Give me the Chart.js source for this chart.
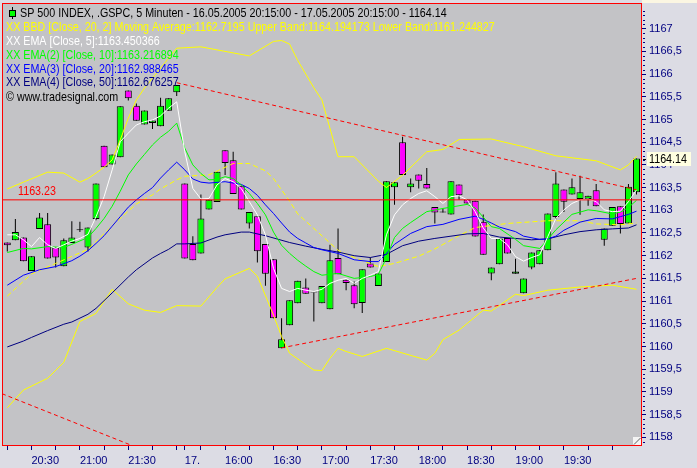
<!DOCTYPE html>
<html>
<head>
<meta charset="utf-8">
<title>SP 500 INDEX, 5 Minuten</title>
<script src="https://cdn.jsdelivr.net/npm/chart.js@4.4.1/dist/chart.umd.min.js"></script>
<style>
    html, body { margin: 0; padding: 0; background: #dcdce4; }
    canvas { display: block; }
</style>
</head>
<body>
<canvas id="price-chart" width="697" height="468"></canvas>
<script>
// 5 minute bars, 16.05.2005 20:15 - 17.05.2005 20:15 (bar index 0..78)
const opens = [
    1162.29, 1162.34, 1162.40, 1161.66, 1162.59, 1162.69, 1162.18, 1161.77, 1162.28, 1162.56,
    1162.18, 1162.81, 1164.42, 1164.01, 1164.17, 1165.64, 1165.30, 1164.89, 1164.92, 1164.85,
    1165.19, 1165.60, 1163.59, 1162.26, 1162.05, 1163.02, 1163.18, 1164.32, 1164.10, 1163.54,
    1162.71, 1162.87, 1162.26, 1161.92, 1159.96, 1160.47, 1160.95, 1161.30, 1161.19, 1160.95,
    1160.82, 1161.95, 1161.47, 1161.35, 1160.96, 1161.83, 1161.33, 1161.86, 1163.51, 1164.50,
    1163.51, 1163.79, 1163.58, 1163.07, 1162.95, 1162.91, 1163.57, 1163.24, 1163.21, 1162.75,
    1161.61, 1161.81, 1162.39, 1161.60, 1161.17, 1161.74, 1161.81, 1162.12, 1162.85, 1163.46,
    1163.35, 1163.25, 1163.25, 1163.44, 1162.35, 1162.66, 1163.09, 1162.71, 1163.40
];
const highs = [
    1162.29, 1162.81, 1162.40, 1161.99, 1162.94, 1162.94, 1162.18, 1162.38, 1162.76, 1162.75,
    1162.62, 1163.59, 1164.42, 1164.23, 1165.29, 1165.64, 1165.35, 1165.20, 1164.98, 1165.48,
    1165.47, 1165.76, 1163.59, 1162.43, 1163.35, 1163.23, 1163.85, 1164.32, 1164.29, 1163.54,
    1162.96, 1162.87, 1162.26, 1161.92, 1160.62, 1161.02, 1161.45, 1161.50, 1161.19, 1161.33,
    1162.24, 1162.60, 1161.47, 1161.43, 1161.70, 1161.96, 1161.61, 1163.64, 1163.62, 1164.62,
    1163.70, 1163.79, 1163.93, 1163.07, 1163.04, 1163.64, 1163.57, 1163.24, 1163.21, 1162.91,
    1161.74, 1162.38, 1162.39, 1161.93, 1161.50, 1162.07, 1162.12, 1162.93, 1163.84, 1163.46,
    1163.70, 1163.76, 1163.32, 1163.58, 1162.60, 1163.07, 1163.09, 1163.58, 1164.14
];
const lows = [
    1162.09, 1162.34, 1161.88, 1161.66, 1162.59, 1161.94, 1161.74, 1161.77, 1162.28, 1162.52,
    1162.09, 1162.78, 1163.95, 1164.01, 1164.17, 1165.42, 1164.97, 1164.89, 1164.79, 1164.85,
    1165.19, 1165.52, 1161.94, 1161.90, 1162.05, 1163.02, 1163.18, 1163.78, 1163.36, 1163.02,
    1162.60, 1161.85, 1161.34, 1160.62, 1159.96, 1160.47, 1160.95, 1161.16, 1160.55, 1160.95,
    1160.82, 1161.59, 1161.24, 1160.84, 1160.74, 1161.74, 1161.33, 1161.86, 1163.12, 1163.78,
    1163.40, 1163.48, 1163.48, 1162.71, 1162.95, 1162.91, 1163.23, 1163.15, 1162.42, 1162.02,
    1161.46, 1161.81, 1162.05, 1161.60, 1161.17, 1161.70, 1161.81, 1162.12, 1162.80, 1162.96,
    1163.35, 1162.90, 1163.10, 1163.09, 1162.22, 1162.66, 1162.49, 1162.71, 1163.35
];
const closes = [
    1162.23, 1162.52, 1161.88, 1161.99, 1162.84, 1161.94, 1161.96, 1162.34, 1162.40, 1162.56,
    1162.62, 1163.59, 1163.95, 1164.23, 1165.29, 1165.47, 1164.97, 1165.20, 1164.98, 1165.30,
    1165.47, 1165.76, 1161.94, 1161.90, 1162.82, 1163.23, 1163.85, 1164.04, 1163.36, 1163.02,
    1162.96, 1162.10, 1161.60, 1160.62, 1160.16, 1161.02, 1161.45, 1161.16, 1161.19, 1161.33,
    1161.90, 1161.59, 1161.40, 1160.93, 1161.70, 1161.74, 1161.61, 1163.64, 1163.62, 1163.78,
    1163.59, 1163.65, 1163.48, 1162.95, 1162.95, 1163.64, 1163.33, 1163.15, 1162.42, 1162.02,
    1161.74, 1162.38, 1162.05, 1161.65, 1161.50, 1162.07, 1162.12, 1162.93, 1163.59, 1163.19,
    1163.51, 1163.40, 1163.32, 1163.09, 1162.60, 1163.07, 1162.70, 1163.52, 1164.14
];

// EMA 5 read at every bar
const ema5 = [
    1162.46, 1162.46, 1162.35, 1162.20, 1162.40, 1162.24, 1162.16, 1162.24, 1162.32, 1162.38,
    1162.47, 1162.86, 1163.30, 1163.89, 1164.51, 1164.70, 1164.88, 1164.95, 1164.99, 1165.08,
    1165.25, 1165.39, 1164.29, 1163.48, 1163.25, 1163.26, 1163.56, 1163.70, 1163.63, 1163.48,
    1163.19, 1162.90, 1162.46, 1161.72, 1161.28, 1161.21, 1161.28, 1161.24, 1161.21, 1161.26,
    1161.39, 1161.46, 1161.50, 1161.39, 1161.50, 1161.57, 1161.65, 1162.46, 1162.90, 1163.12,
    1163.26, 1163.37, 1163.43, 1163.30, 1163.15, 1163.30, 1163.32, 1163.23, 1162.97, 1162.61,
    1162.38, 1162.38, 1162.24, 1161.98, 1161.88, 1161.96, 1162.02, 1162.42, 1162.82, 1163.01,
    1163.15, 1163.23, 1163.25, 1163.19, 1163.01, 1162.97, 1162.98, 1163.19, 1163.45
];

// Other indicator lines, [bar index, value] read at the turning points
const ema10 = [
    [0, 1162.07], [2, 1162.16], [3, 1162.15], [5, 1162.20], [7, 1162.18], [8, 1162.25], [10, 1162.40],
    [11, 1162.60], [12, 1162.82], [13, 1163.09], [14, 1163.42], [15, 1163.78], [16, 1164.02], [17, 1164.23],
    [18, 1164.44], [19, 1164.61], [20, 1164.74], [21, 1164.92], [22, 1164.37], [23, 1164.00], [24, 1163.81],
    [25, 1163.67], [26, 1163.68], [27, 1163.74], [28, 1163.70], [29, 1163.56], [30, 1163.37], [31, 1163.15],
    [32, 1162.90], [33, 1162.52], [34, 1162.23], [35, 1162.05], [36, 1161.90], [37, 1161.77], [38, 1161.65],
    [39, 1161.57], [41, 1161.61], [43, 1161.50], [45, 1161.54], [46, 1161.59], [47, 1161.95], [48, 1162.40],
    [49, 1162.60], [50, 1162.73], [52, 1162.97], [54, 1163.04], [55, 1163.07], [57, 1163.13], [58, 1163.05],
    [59, 1162.85], [60, 1162.64], [61, 1162.60], [63, 1162.36], [64, 1162.22], [66, 1162.16], [67, 1162.36],
    [68, 1162.57], [70, 1162.91], [72, 1163.01], [73, 1162.99], [75, 1162.92], [76, 1162.96], [77, 1163.06],
    [78, 1163.22]
];
const ema20 = [
    [0, 1161.35], [2, 1161.57], [4, 1161.69], [6, 1161.76], [8, 1161.89], [9, 1161.99], [10, 1162.11],
    [11, 1162.27], [12, 1162.44], [13, 1162.65], [14, 1162.86], [15, 1163.07], [16, 1163.23], [17, 1163.37],
    [18, 1163.50], [19, 1163.71], [20, 1163.89], [21, 1164.06], [22, 1163.89], [23, 1163.69], [24, 1163.62],
    [25, 1163.60], [27, 1163.63], [29, 1163.57], [30, 1163.48], [31, 1163.33], [32, 1163.12], [33, 1162.93],
    [34, 1162.72], [35, 1162.52], [36, 1162.38], [37, 1162.28], [38, 1162.18], [39, 1162.13], [41, 1162.05],
    [43, 1161.91], [45, 1161.87], [46, 1161.87], [47, 1162.05], [48, 1162.25], [50, 1162.49], [52, 1162.64],
    [54, 1162.69], [56, 1162.80], [58, 1162.87], [59, 1162.80], [60, 1162.72], [61, 1162.63], [63, 1162.53],
    [64, 1162.43], [66, 1162.36], [67, 1162.37], [68, 1162.43], [69, 1162.56], [71, 1162.74], [73, 1162.82],
    [75, 1162.81], [76, 1162.86], [77, 1162.91], [78, 1162.98]
];
const ema50 = [
    [0, 1159.99], [2, 1160.12], [3, 1160.20], [5, 1160.35], [7, 1160.49], [8, 1160.54], [10, 1160.71],
    [11, 1160.84], [13, 1161.18], [15, 1161.53], [16, 1161.69], [18, 1161.95], [19, 1162.05], [20, 1162.14],
    [21, 1162.26], [22, 1162.26], [24, 1162.28], [26, 1162.41], [27, 1162.46], [29, 1162.52], [30, 1162.52],
    [32, 1162.44], [35, 1162.29], [37, 1162.21], [39, 1162.14], [41, 1162.08], [43, 1162.00], [45, 1161.96],
    [47, 1162.03], [49, 1162.22], [51, 1162.32], [53, 1162.38], [55, 1162.43], [57, 1162.48], [59, 1162.49],
    [61, 1162.41], [63, 1162.38], [65, 1162.35], [67, 1162.37], [69, 1162.46], [71, 1162.53], [73, 1162.57],
    [75, 1162.59], [77, 1162.61], [78, 1162.68]
];
const upperBand = [
    [0, 1163.47], [2, 1163.62], [5, 1163.84], [7, 1163.82], [9, 1163.62], [10, 1163.70], [11, 1163.82],
    [12, 1163.95], [13, 1164.11], [14, 1164.55], [15, 1165.03], [16, 1165.43], [17, 1165.69], [18, 1165.91],
    [19, 1166.13], [20, 1166.35], [21, 1166.57], [24, 1166.60], [30, 1166.40], [33, 1166.72], [34, 1166.74],
    [35, 1166.66], [36, 1166.30], [38, 1165.70], [39, 1165.43], [41, 1164.18], [43, 1164.18], [46, 1163.64],
    [47, 1163.50], [49, 1163.77], [52, 1164.29], [54, 1164.34], [56, 1164.56], [60, 1164.57], [64, 1164.40],
    [68, 1164.20], [73, 1164.09], [76, 1163.89], [77, 1164.00], [78, 1164.19]
];
const middleBand = [
    [0, 1161.11], [3, 1161.60], [6, 1161.83], [10, 1162.14], [13, 1162.66], [16, 1163.14], [18, 1163.34],
    [19, 1163.47], [21, 1163.67], [22, 1163.75], [25, 1163.78], [28, 1164.03], [30, 1164.03], [32, 1163.87],
    [33, 1163.70], [35, 1163.20], [36, 1162.92], [38, 1162.60], [41, 1162.12], [43, 1161.96], [46, 1161.76],
    [48, 1161.83], [51, 1161.99], [53, 1162.15], [56, 1162.44], [58, 1162.62], [62, 1162.71], [67, 1162.77],
    [71, 1162.77], [73, 1162.70], [76, 1162.68], [78, 1162.72]
];
const lowerBand = [
    [0, 1158.65], [2, 1159.04], [5, 1159.30], [7, 1159.65], [9, 1160.55], [11, 1160.73], [13, 1161.26],
    [15, 1160.94], [17, 1160.80], [19, 1160.75], [21, 1160.90], [24, 1160.89], [26, 1161.30], [27, 1161.49],
    [30, 1161.72], [31, 1161.55], [33, 1160.69], [34, 1160.22], [35, 1159.85], [38, 1159.48], [39, 1159.47],
    [40, 1159.74], [41, 1159.96], [42, 1159.89], [44, 1159.78], [47, 1159.96], [52, 1159.70], [53, 1159.85],
    [54, 1160.15], [56, 1160.36], [59, 1160.80], [60, 1160.78], [63, 1161.15], [64, 1161.12], [67, 1161.24],
    [71, 1161.31], [75, 1161.35], [78, 1161.26]
];

// Drawn trend lines
const trendUpper = [[21, 1165.81], [78, 1163.45]];
const trendLower = [[34, 1159.97], [78, 1161.50]];
const trendLeft = [[-0.66, 1158.96], [16, 1157.78]];

// Horizontal marker and last price
const markerLevel = 1163.23;
const lastPrice = 1164.14;

// Axis ticks
const yTickValues = [
    1158, 1158.5, 1159, 1159.5, 1160, 1160.5, 1161, 1161.5, 1162,
    1162.5, 1163, 1163.5, 1164, 1164.5, 1165, 1165.5, 1166, 1166.5, 1167
];
const xTickIndex = [0, 3, 6, 9, 12, 15, 18, 21, 22, 24, 27, 30, 33, 36, 39, 42, 45, 48, 51, 54, 57, 60, 63, 66, 69, 72, 75];
const xTickLabels = ['', '20:30', '', '21:00', '', '21:30', '', '', '17.', '', '16:00', '', '16:30', '',
    '17:00', '', '17:30', '', '18:00', '', '18:30', '', '19:00', '', '19:30', '', ''];

// Header text
const titleText = 'SP 500 INDEX, .GSPC, 5 Minuten - 16.05.2005 20:15:00 - 17.05.2005 20:15:00 - 1164.14';
const legendLines = [
    { text: 'XX BBD [Close, 20, 2] Moving Average:1162.7195 Upper Band:1164.194173 Lower Band:1161.244827', color: '#ffff00' },
    { text: 'XX EMA [Close, 5]:1163.450366', color: '#ffffff' },
    { text: 'XX EMA(2) [Close, 10]:1163.216894', color: '#00ff00' },
    { text: 'XX EMA(3) [Close, 20]:1162.988465', color: '#0000ff' },
    { text: 'XX EMA(4) [Close, 50]:1162.676257', color: '#000080' },
    { text: '\u00a9 www.tradesignal.com', color: '#000000' }
];

// Colors and fonts
const NAVY = '#000080';
const PLOT_BG = '#c3c3c6';
const PANEL_BG = '#dcdce4';
const FONT_FAMILY = "'Liberation Sans', Arial, sans-serif";
const FONT = '13px ' + FONT_FAMILY;
const NARROW = 0.825; // horizontal squeeze for the header text

// Turn [index, value] pairs into chart points
function toPoints(pairs) {
    return pairs.map(([x, y]) => ({ x: x, y: y }));
}

// Build a thin indicator line dataset
function lineSet(label, pairs, color, order, dash) {
    return {
        type: 'line',
        label: label,
        data: toPoints(pairs),
        borderColor: color,
        borderWidth: 1,
        borderDash: dash || [],
        pointRadius: 0,
        tension: 0,
        fill: false,
        order: order
    };
}

// Draw narrow text by squeezing the canvas horizontally
function narrowText(ctx, text, x, y) {
    ctx.save();
    ctx.translate(x, y);
    ctx.scale(NARROW, 1);
    ctx.fillText(text, 0, 0);
    ctx.restore();
}

// Background, frame, header, marker label and price box
const chartDecor = {
    id: 'chartDecor',
    beforeDraw(chart) {
        const { ctx, chartArea: a } = chart;
        ctx.save();
        ctx.fillStyle = PANEL_BG;
        ctx.fillRect(0, 0, chart.width, chart.height);
        ctx.fillStyle = '#fbf6e2';
        ctx.fillRect(a.right, 0, chart.width - a.right, a.top);
        ctx.fillStyle = PLOT_BG;
        ctx.fillRect(a.left, a.top, a.right - a.left, a.bottom - a.top);
        ctx.restore();
    },
    afterDraw(chart) {
        const { ctx, chartArea: a } = chart;
        const yScale = chart.scales.y;
        ctx.save();

        // minor ticks on the price axis
        ctx.fillStyle = NAVY;
        for (let k = 11579; k <= 11675; k++) {
            if (k % 5 === 0) continue;
            const y = Math.round(yScale.getPixelForValue(k / 10));
            ctx.fillRect(a.right + 1, y, 2, 1);
        }

        // red frame around the plot
        ctx.strokeStyle = '#ff0000';
        ctx.lineWidth = 1;
        ctx.strokeRect(a.left + 0.5, a.top + 0.5, a.right - a.left - 1, a.bottom - a.top - 1);

        // resize grip in the corner
        ctx.fillStyle = '#f4f4f4';
        ctx.fillRect(a.right - 9, a.bottom - 9, 8, 8);
        ctx.strokeStyle = '#606060';
        ctx.beginPath();
        ctx.moveTo(a.right - 8, a.bottom - 1.5);
        ctx.lineTo(a.right - 1.5, a.bottom - 8);
        ctx.stroke();

        // header: symbol icon and title
        ctx.strokeStyle = '#000000';
        ctx.beginPath();
        ctx.moveTo(12.5, 7);
        ctx.lineTo(12.5, 19);
        ctx.stroke();
        ctx.fillStyle = '#00ff00';
        ctx.fillRect(9.5, 10.5, 6, 6);
        ctx.strokeRect(9.5, 10.5, 6, 6);

        ctx.font = FONT;
        ctx.textBaseline = 'middle';
        ctx.textAlign = 'left';
        ctx.fillStyle = '#000000';
        narrowText(ctx, titleText, 20, 13.5);
        const lineY = [27, 41, 55, 69, 82.5, 97.5];
        legendLines.forEach((line, i) => {
            ctx.fillStyle = line.color;
            narrowText(ctx, line.text, 6, lineY[i]);
        });

        // marker level label
        const markerY = yScale.getPixelForValue(markerLevel);
        ctx.fillStyle = '#ff0000';
        narrowText(ctx, String(markerLevel), 18, markerY - 8);

        // last price box on the axis
        const priceY = Math.round(yScale.getPixelForValue(lastPrice));
        ctx.fillStyle = '#ffffe1';
        ctx.fillRect(a.right + 5, priceY - 7, 44, 14);
        ctx.fillStyle = '#000000';
        ctx.fillRect(a.right + 1, priceY, 3, 1);
        narrowText(ctx, lastPrice.toFixed(2), a.right + 7, priceY + 0.5);

        ctx.restore();
    }
};

// Build the chart
function initChart() {
    const canvas = document.getElementById('price-chart');

    const wickData = highs.map((h, i) => ({ x: i, y: [lows[i], h] }));
    const bodyData = opens.map((o, i) => ({ x: i, y: [o, closes[i]] }));

    new Chart(canvas, {
        type: 'bar',
        data: {
            datasets: [
                lineSet('Level', [[-1, markerLevel], [80, markerLevel]], '#ff0000', 0),
                lineSet('Trend upper', trendUpper, '#ff0000', 1, [4, 3]),
                lineSet('Trend lower', trendLower, '#ff0000', 1, [4, 3]),
                lineSet('Trend left', trendLeft, '#ff0000', 1, [4, 3]),
                lineSet('EMA 5', ema5.map((v, i) => [i, v]), '#ffffff', 2),
                lineSet('EMA 10', ema10, '#00ff00', 3),
                lineSet('EMA 20', ema20, '#0000ff', 4),
                lineSet('EMA 50', ema50, '#000080', 5),
                lineSet('Upper band', upperBand, '#ffff00', 6),
                lineSet('Lower band', lowerBand, '#ffff00', 6),
                lineSet('Moving average', middleBand, '#ffff00', 6, [5, 3]),
                {
                    type: 'bar',
                    label: 'Candles',
                    data: bodyData,
                    backgroundColor: ctx => closes[ctx.dataIndex] >= opens[ctx.dataIndex] ? '#00ff00' : '#ff00ff',
                    borderColor: '#000000',
                    borderWidth: 1,
                    borderSkipped: false,
                    barThickness: 7,
                    minBarLength: 1,
                    inflateAmount: 0,
                    grouped: false,
                    order: 10
                },
                {
                    type: 'bar',
                    label: 'Wicks',
                    data: wickData,
                    backgroundColor: '#000000',
                    borderWidth: 0,
                    barThickness: 1,
                    inflateAmount: 0,
                    grouped: false,
                    order: 11
                }
            ]
        },
        options: {
            responsive: false,
            devicePixelRatio: 1,
            animation: false,
            events: [],
            layout: { padding: { left: 2, top: 3, right: 0, bottom: 0 } },
            plugins: {
                legend: { display: false },
                tooltip: { enabled: false }
            },
            scales: {
                x: {
                    type: 'linear',
                    bounds: 'data',
                    offset: false,
                    min: -0.657,
                    max: 78.68,
                    afterBuildTicks: scale => {
                        scale.ticks = xTickIndex.map(v => ({ value: v }));
                    },
                    afterFit: scale => {
                        scale.height = 22;
                        scale.paddingLeft = 0;
                        scale.paddingRight = 0;
                    },
                    grid: { offset: false, drawOnChartArea: false, drawTicks: true, tickLength: 4, tickColor: NAVY },
                    border: { display: false },
                    ticks: {
                        color: NAVY,
                        font: { family: FONT_FAMILY, size: 11 },
                        align: 'start',
                        autoSkip: false,
                        maxRotation: 0,
                        minRotation: 0,
                        padding: 4,
                        callback: (value, index) => xTickLabels[index]
                    }
                },
                y: {
                    type: 'linear',
                    position: 'right',
                    bounds: 'data',
                    min: 1157.808,
                    max: 1167.566,
                    afterBuildTicks: scale => {
                        scale.ticks = yTickValues.map(v => ({ value: v }));
                    },
                    afterFit: scale => {
                        scale.width = 55;
                        scale.paddingTop = 0;
                        scale.paddingBottom = 0;
                    },
                    grid: { drawOnChartArea: false, drawTicks: true, tickLength: 4, tickColor: NAVY },
                    border: { display: false },
                    ticks: {
                        color: NAVY,
                        font: { family: FONT_FAMILY, size: 11 },
                        padding: 3,
                        callback: value => String(value).replace('.', ',')
                    }
                }
            }
        },
        plugins: [chartDecor]
    });
}

document.addEventListener('DOMContentLoaded', initChart);
</script>
</body>
</html>
